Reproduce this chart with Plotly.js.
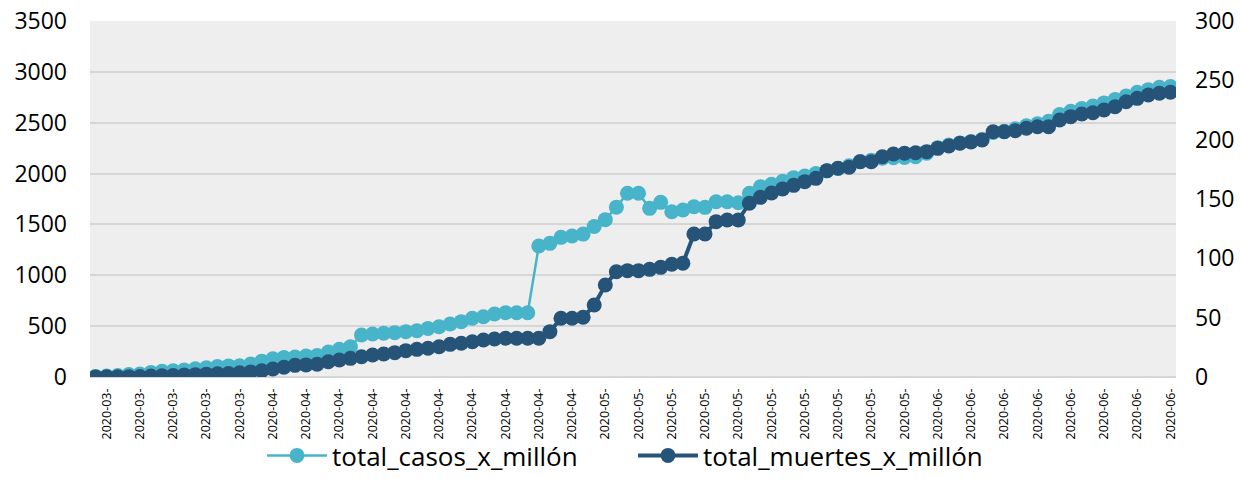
<!DOCTYPE html>
<html>
<head>
<meta charset="utf-8">
<script src="https://cdn.plot.ly/plotly-3.0.1.min.js"></script>
<style>
  html, body { margin: 0; padding: 0; background: #ffffff; }
  #chart { width: 1240px; height: 479px; }
</style>
</head>
<body>
<div id="chart"></div>
<script>
// Daily dates of the series
const fechas = [
  "2020-03-17","2020-03-18","2020-03-19","2020-03-20","2020-03-21","2020-03-22","2020-03-23","2020-03-24",
  "2020-03-25","2020-03-26","2020-03-27","2020-03-28","2020-03-29","2020-03-30","2020-03-31",
  "2020-04-01","2020-04-02","2020-04-03","2020-04-04","2020-04-05","2020-04-06","2020-04-07","2020-04-08",
  "2020-04-09","2020-04-10","2020-04-11","2020-04-12","2020-04-13","2020-04-14","2020-04-15","2020-04-16",
  "2020-04-17","2020-04-18","2020-04-19","2020-04-20","2020-04-21","2020-04-22","2020-04-23","2020-04-24",
  "2020-04-25","2020-04-26","2020-04-27","2020-04-28","2020-04-29","2020-04-30",
  "2020-05-01","2020-05-02","2020-05-03","2020-05-04","2020-05-05","2020-05-06","2020-05-07","2020-05-08",
  "2020-05-09","2020-05-10","2020-05-11","2020-05-12","2020-05-13","2020-05-14","2020-05-15","2020-05-16",
  "2020-05-17","2020-05-18","2020-05-19","2020-05-20","2020-05-21","2020-05-22","2020-05-23","2020-05-24",
  "2020-05-25","2020-05-26","2020-05-27","2020-05-28","2020-05-29","2020-05-30","2020-05-31",
  "2020-06-01","2020-06-02","2020-06-03","2020-06-04","2020-06-05","2020-06-06","2020-06-07","2020-06-08",
  "2020-06-09","2020-06-10","2020-06-11","2020-06-12","2020-06-13","2020-06-14","2020-06-15","2020-06-16",
  "2020-06-17","2020-06-18","2020-06-19","2020-06-20","2020-06-21","2020-06-22"
];

// Cumulative cases per million (left axis)
const totalCasos = [
  6, 10, 15, 24, 30, 45, 56, 61, 69, 80, 90, 103, 109, 111, 127,
  156, 179, 191, 196, 207, 212, 245, 272, 298, 413, 423, 430, 436, 446, 455, 478,
  494, 521, 544, 577, 593, 619, 632, 632, 632, 1288, 1314, 1373, 1386, 1405,
  1480, 1547, 1670, 1806, 1806, 1658, 1717, 1625, 1642, 1674, 1668, 1723, 1723, 1713,
  1806, 1871, 1895, 1925, 1960, 1975, 2000, 2027, 2050, 2076, 2118, 2130, 2150, 2155,
  2158, 2165, 2200,
  2255, 2280, 2300, 2315, 2335, 2405, 2415, 2440, 2470, 2490, 2515, 2580, 2612, 2640,
  2665, 2695, 2728, 2762, 2800, 2825, 2848, 2855
];

// Cumulative deaths per million (right axis)
const totalMuertes = [
  0.1, 0.2, 0.2, 0.3, 0.4, 0.8, 1.0, 1.3, 1.6, 2.0, 2.4, 2.7, 3.0, 3.5, 4.3,
  5.3, 6.8, 8.2, 9.8, 10.2, 10.8, 12.9, 14.3, 15.7, 17.1, 18.5, 19.4, 20.5, 22.2, 23.3, 24.2,
  25.5, 27.5, 28.4, 29.7, 31.2, 32.0, 32.6, 32.6, 32.6, 32.6, 38.2, 49.5, 49.5, 50.3,
  60.7, 77.5, 88.7, 89.6, 89.6, 90.7, 92.4, 95.0, 95.8, 120.5, 120.5, 130.9, 132.3, 132.3,
  146.4, 151.4, 155.0, 158.5, 161.5, 164.6, 167.4, 173.9, 175.9, 176.7, 181.4, 181.4, 185.6, 187.9,
  188.5, 189.0, 189.9,
  192.7, 194.7, 197.0, 198.0, 199.7, 206.7, 206.7, 207.5, 209.6, 210.9, 210.9, 216.6, 219.4, 221.6,
  222.7, 225.0, 227.8, 232.0, 234.8, 237.6, 239.1, 239.9
];

// Every third date gets a label, showing year and month
const tickFechas = fechas.filter((d, i) => i % 3 === 1);
const tickTextos = tickFechas.map(d => d.slice(0, 8));

const colorCasos = "#48b4ca";
const colorMuertes = "#265479";

const traces = [
  {
    x: fechas, y: totalCasos, name: "total_casos_x_millón",
    type: "scatter", mode: "lines+markers", yaxis: "y",
    line: { color: colorCasos, width: 2.5 },
    marker: { color: colorCasos, size: 15 }
  },
  {
    x: fechas, y: totalMuertes, name: "total_muertes_x_millón",
    type: "scatter", mode: "lines+markers", yaxis: "y2",
    line: { color: colorMuertes, width: 4 },
    marker: { color: colorMuertes, size: 15 }
  }
];

const layout = {
  width: 1240, height: 479,
  margin: { l: 90, r: 64, t: 21, b: 102, autoexpand: false },
  paper_bgcolor: "#ffffff",
  plot_bgcolor: "#eeeeee",
  font: { family: "Open Sans, sans-serif", color: "#000000" },
  showlegend: true,
  legend: {
    orientation: "h", x: 0.5, xanchor: "center",
    yref: "container", y: -0.016, yanchor: "bottom",
    font: { size: 26, color: "#000000" }, bgcolor: "rgba(0,0,0,0)",
    itemwidth: 60, entrywidth: 296
  },
  xaxis: {
    type: "category", range: [-0.5, fechas.length - 0.5], automargin: false,
    tickmode: "array", tickvals: tickFechas, ticktext: tickTextos,
    tickangle: -90, tickfont: { size: 12.5 }, ticklabelstandoff: 8,
    showgrid: false, showline: false, zeroline: false, ticks: ""
  },
  yaxis: {
    range: [0, 3500], dtick: 500, tickfont: { size: 23 }, automargin: false,
    showgrid: true, gridcolor: "#d6d6d6", gridwidth: 2,
    zeroline: true, zerolinecolor: "#d6d6d6", zerolinewidth: 2,
    showline: false, ticks: "", ticklabelstandoff: 22
  },
  yaxis2: {
    range: [0, 300], dtick: 50, overlaying: "y", side: "right", automargin: false,
    tickfont: { size: 23 }, showgrid: false, zeroline: false,
    showline: false, ticks: "", ticklabelstandoff: 18
  }
};

Plotly.newPlot("chart", traces, layout, { displayModeBar: false, staticPlot: true });
</script>
</body>
</html>
